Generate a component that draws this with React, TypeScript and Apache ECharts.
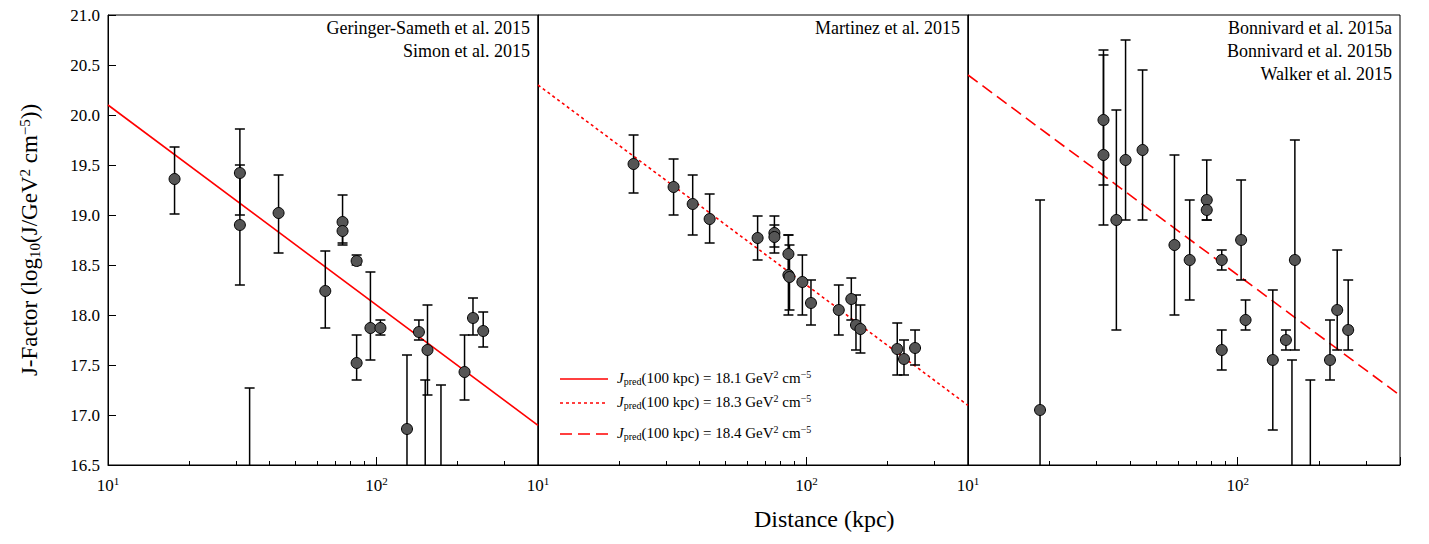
import React, { useEffect, useRef } from 'react';
import * as echarts from 'echarts';

// [distance kpc, J, errLow, errHigh]
const geringerSimon = [
  [17.7, 19.36, 19.01, 19.68], [31, 19.42, 19.0, 19.86], [31, 18.9, 18.3, 19.5],
  [33.7, 16.0, 15.0, 17.27], [43.2, 19.02, 18.62, 19.4], [64.5, 18.24, 17.87, 18.64],
  [74.8, 18.93, 18.7, 19.2], [74.8, 18.84, 18.72, 18.95], [84.4, 18.54, 18.5, 18.6],
  [84.4, 17.52, 17.35, 17.8], [95, 17.87, 17.55, 18.43], [103.5, 17.87, 17.8, 17.95],
  [130, 16.86, 16.3, 17.6], [144, 17.83, 17.75, 17.95], [152, 16.0, 15.0, 17.35],
  [155, 17.65, 17.2, 18.1], [174, 16.0, 15.0, 17.3], [213, 17.43, 17.15, 17.8],
  [229, 17.97, 17.8, 18.17], [250, 17.84, 17.68, 18.03],
];
const martinez = [
  [22.7, 19.51, 19.22, 19.8], [32, 19.28, 19.0, 19.56], [37.7, 19.11, 18.8, 19.4],
  [43.6, 18.96, 18.72, 19.21], [65.8, 18.77, 18.55, 18.99], [76, 18.82, 18.62, 18.99],
  [76, 18.78, 18.68, 18.9], [85.7, 18.61, 18.4, 18.8], [85.7, 18.4, 18.0, 18.8],
  [86.5, 18.38, 18.05, 18.7], [96.6, 18.33, 18.0, 18.6], [104, 18.12, 17.9, 18.35],
  [132, 18.05, 17.8, 18.3], [147, 18.16, 17.95, 18.37], [153, 17.9, 17.65, 18.2],
  [159, 17.86, 17.62, 18.1], [218, 17.66, 17.4, 17.92], [231, 17.56, 17.4, 17.75],
  [254, 17.67, 17.5, 17.85],
];
const bonnivardWalker = [
  [18.5, 17.05, 15.0, 19.15], [31.8, 19.6, 18.9, 20.6], [31.8, 19.95, 19.3, 20.65],
  [35.5, 18.95, 17.85, 20.05], [38.4, 19.55, 18.95, 20.75], [44.4, 19.65, 18.95, 20.45],
  [58.3, 18.7, 18.0, 19.6], [66.4, 18.55, 18.15, 19.15], [76.8, 19.15, 18.95, 19.55],
  [76.8, 19.05, 18.95, 19.15], [87.3, 18.55, 18.45, 18.65], [87.3, 17.65, 17.45, 17.85],
  [103, 18.75, 18.35, 19.35], [107, 17.95, 17.85, 18.15], [135, 17.55, 16.85, 18.25],
  [151, 17.75, 17.65, 17.85], [159, 16.0, 15.0, 17.55], [163, 18.55, 17.65, 19.75],
  [186, 16.0, 15.0, 17.35], [220, 17.55, 17.35, 17.95], [234, 18.05, 17.65, 18.65],
  [257, 17.85, 17.65, 18.35],
];
const panels = [geringerSimon, martinez, bonnivardWalker];
const jPred = [18.1, 18.3, 18.4];
const lineTypes: any[] = ['solid', [3, 3], [12, 6]];
const panelNotes = [
  ['Geringer-Sameth et al. 2015', 'Simon et al. 2015'],
  ['Martinez et al. 2015'],
  ['Bonnivard et al. 2015a', 'Bonnivard et al. 2015b', 'Walker et al. 2015'],
];
const xMin = 10;
const xMax = 400;

const FONT = 'Liberation Serif';

export default function App() {
  const ref = useRef<HTMLDivElement>(null);
  useEffect(() => {
    const chart = echarts.init(ref.current, null, { renderer: 'svg' });
    const lefts = [108, 538, 968];
    const widths = [430, 430, 432];
    const grid = lefts.map((l, i) => ({ left: l, width: widths[i], top: 15, bottom: 79 }));
    const xAxis = panels.map((_, i) => ({
      type: 'log', gridIndex: i, min: xMin, max: xMax, logBase: 10,
      axisLine: { lineStyle: { color: '#000' } },
      axisTick: { inside: true, length: 8, lineStyle: { color: '#000' } },
      minorTick: { show: true, splitNumber: 9, length: 4, lineStyle: { color: '#000' } },
      splitLine: { show: false },
      axisLabel: {
        fontFamily: FONT, fontSize: 17, color: '#000', margin: 10,
        formatter: (v: number) => (Math.abs(v - 10) < 1e-6 ? '10{s|1}' : Math.abs(v - 100) < 1e-6 ? '10{s|2}' : ''),
        rich: { s: { fontSize: 11, verticalAlign: 'top', padding: [0, 0, 9, 0], fontFamily: FONT } },
      },
    }));
    const yAxis = panels.map((_, i) => ({
      type: 'value', gridIndex: i, min: 16.5, max: 21, interval: 0.5,
      axisLine: { show: true, lineStyle: { color: '#000' } },
      axisTick: { show: i === 0, inside: true, length: 8, lineStyle: { color: '#000' } },
      splitLine: { show: false },
      axisLabel: { show: i === 0, fontFamily: FONT, fontSize: 17, color: '#000', formatter: (v: number) => v.toFixed(1) },
      name: i === 0 ? 'J-Factor (log{sub|10}(J/GeV{sup|2} cm{sup|−5}))' : '',
      nameLocation: 'middle', nameGap: 66, nameRotate: 90,
      nameTextStyle: {
        fontFamily: FONT, fontSize: 23, color: '#000',
        rich: {
          sub: { fontSize: 15, fontFamily: FONT, padding: [10, 0, 0, 0] },
          sup: { fontSize: 15, fontFamily: FONT, padding: [0, 0, 10, 0] },
        },
      },
    }));
    const series: any[] = [];
    panels.forEach((d, i) => {
      series.push({
        type: 'custom', xAxisIndex: i, yAxisIndex: i, data: d, clip: true,
        renderItem: (params: any, api: any) => {
          const x = api.value(0);
          const lo = api.coord([x, api.value(2)]);
          const hi = api.coord([x, api.value(3)]);
          const cs = params.coordSys;
          const bottom = cs.y + cs.height;
          const loY = Math.min(lo[1], bottom);
          const hiY = Math.max(hi[1], cs.y);
          const style = { stroke: '#000', lineWidth: 1.5 };
          const children: any[] = [
            { type: 'line', shape: { x1: lo[0], y1: loY, x2: lo[0], y2: hiY }, style },
          ];
          if (hi[1] >= cs.y) children.push({ type: 'line', shape: { x1: hi[0] - 5, y1: hi[1], x2: hi[0] + 5, y2: hi[1] }, style });
          if (lo[1] <= bottom) children.push({ type: 'line', shape: { x1: lo[0] - 5, y1: lo[1], x2: lo[0] + 5, y2: lo[1] }, style });
          return { type: 'group', children };
        },
        z: 2,
      });
      series.push({
        type: 'scatter', xAxisIndex: i, yAxisIndex: i, symbolSize: 11, clip: true,
        data: d.map((r) => [r[0], r[1]]),
        itemStyle: { color: '#555', borderColor: '#000', borderWidth: 1, opacity: 1 },
        z: 3,
      });
      series.push({
        type: 'line', xAxisIndex: i, yAxisIndex: i, symbol: 'none',
        data: [xMin, xMax].map((x) => [x, jPred[i] - 2 * (Math.log10(x) - 2)]),
        lineStyle: { color: '#ff0000', width: 1.6, type: lineTypes[i] },
        z: 1,
      });
    });
    const graphic: any[] = [];
    lefts.forEach((l, i) => {
      graphic.push({
        type: 'rect', shape: { x: l, y: 15, width: widths[i], height: 450 },
        style: { fill: 'none', stroke: '#000', lineWidth: 1 }, silent: true,
      });
    });
    panelNotes.forEach((notes, i) => {
      notes.forEach((t, k) => {
        graphic.push({
          type: 'text', right: 1429 - (lefts[i] + widths[i]) + 8, top: 19 + k * 23,
          style: { text: t, fontFamily: FONT, fontSize: 18, fill: '#000', textAlign: 'right' },
        });
      });
    });
    const legendY = [379, 403, 434];
    jPred.forEach((v, i) => {
      graphic.push({
        type: 'line', shape: { x1: 560, y1: legendY[i], x2: 608, y2: legendY[i] },
        style: { stroke: '#ff0000', lineWidth: 1.6, lineDash: i === 0 ? null : lineTypes[i] },
      });
      graphic.push({
        type: 'text', left: 617, top: legendY[i] - 10,
        style: {
          text: `{i|J}{s|pred}(100 kpc) = ${v.toFixed(1)} GeV{p|2} cm{p|−5}`,
          fontFamily: FONT, fontSize: 15, fill: '#000',
          rich: {
            i: { fontStyle: 'italic', fontFamily: FONT, fontSize: 15 },
            s: { fontFamily: FONT, fontSize: 10, padding: [6, 0, 0, 0] },
            p: { fontFamily: FONT, fontSize: 10, padding: [0, 0, 8, 0] },
          },
        },
      });
    });
    graphic.push({
      type: 'text', left: 754, top: 507,
      style: { text: 'Distance (kpc)', fontFamily: FONT, fontSize: 24, fill: '#000', textAlign: 'center' },
    });
    chart.setOption({ animation: false, grid, xAxis, yAxis, series, graphic });
    return () => chart.dispose();
  }, []);
  return <div ref={ref} style={{ width: 1429, height: 544, margin: -8 }} />;
}
